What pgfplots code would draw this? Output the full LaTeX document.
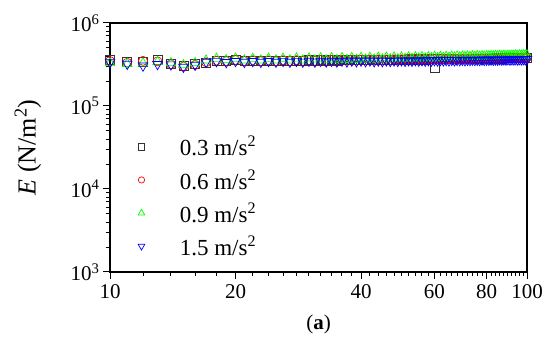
\documentclass[border=0pt]{standalone}
\usepackage{fontspec}
\setmainfont{Liberation Serif}
\usepackage{pgfplots}
\pgfplotsset{compat=1.18}
\begin{document}
\begin{tikzpicture}
\useasboundingbox (0,0) rectangle (550bp,349bp);
\begin{axis}[
  at={(110bp,77bp)}, anchor=south west,
  scale only axis, width=417bp, height=249bp,
  xmode=log, ymode=log,
  xmin=10, xmax=100, ymin=1e3, ymax=1e6,
  xtick={10,20,40,60,80,100},
  xticklabels={10,20,40,60,80,100},
  minor xtick={12,14,16,18,22,24,26,28,30,32,34,36,38,42,44,46,48,50,52,54,56,58,62,64,66,68,70,72,74,76,78,82,84,86,88,90,92,94,96,98},
  ytick={1e3,1e4,1e5,1e6},
  yticklabels={10\textsuperscript{3},10\textsuperscript{4},10\textsuperscript{5},10\textsuperscript{6}},
  minor ytick={2e3,3e3,4e3,5e3,6e3,7e3,8e3,9e3,2e4,3e4,4e4,5e4,6e4,7e4,8e4,9e4,2e5,3e5,4e5,5e5,6e5,7e5,8e5,9e5},
  tick align=outside, xtick pos=bottom, ytick pos=left,
  major tick length=7bp, minor tick length=4bp,
  every tick/.style={black, line width=1bp},
  axis line style={line width=1.2bp},
  tick label style={font=\fontsize{21bp}{25bp}\selectfont},
  xticklabel style={yshift=-2bp},
  ylabel={\textit{E} (N/m\textsuperscript{2})},
  ylabel style={font=\fontsize{26bp}{30bp}\selectfont, at={(axis description cs:-0.197,0.5)}, anchor=center},
  xlabel={(\textbf{a})},
  xlabel style={font=\fontsize{21bp}{24bp}\selectfont, at={(axis description cs:0.5,0)}, anchor=center, yshift=-52bp},
  legend style={at={(axis description cs:0.067,0.554)}, anchor=north west, draw=none, fill=none,
    font=\fontsize{23bp}{27bp}\selectfont, row sep=8bp, inner sep=0pt},
  legend cell align=left,
  legend image post style={every mark/.append style={scale=0.7}},
]
\addplot[only marks, mark=square, mark size=4.5bp, draw=black!80, line width=0.7bp] coordinates {
(10,3.55e5)(11,3.40e5)(12,3.45e5)(13,3.58e5)(14,3.25e5)(15,3.05e5)(16,3.20e5)(17,3.32e5)(18,3.46e5)(19,3.50e5)
(20,3.55e5)(21,3.50e5)(22,3.53e5)(23,3.49e5)(24,3.52e5)(25,3.48e5)(26,3.53e5)(27,3.50e5)(28,3.54e5)(29,3.51e5)
(30,3.55e5)(31,3.52e5)(32,3.56e5)(33,3.53e5)(34,3.57e5)(35,3.54e5)(36,3.58e5)(37,3.55e5)(38,3.59e5)(39,3.56e5)
(40,3.60e5)(41,3.57e5)(42,3.61e5)(43,3.58e5)(44,3.62e5)(45,3.59e5)(46,3.62e5)(47,3.60e5)(48,3.63e5)(49,3.61e5)
(50,3.64e5)(51,3.62e5)(52,3.65e5)(53,3.62e5)(54,3.66e5)(55,3.63e5)(56,3.66e5)(57,3.64e5)(58,3.67e5)(59,3.65e5)
(60,2.85e5)(61,3.66e5)(62,3.68e5)(63,3.66e5)(64,3.69e5)(65,3.67e5)(66,3.70e5)(67,3.68e5)(68,3.70e5)(69,3.69e5)
(70,3.71e5)(71,3.69e5)(72,3.72e5)(73,3.70e5)(74,3.72e5)(75,3.71e5)(76,3.73e5)(77,3.72e5)(78,3.74e5)(79,3.72e5)
(80,3.74e5)(81,3.73e5)(82,3.75e5)(83,3.74e5)(84,3.76e5)(85,3.74e5)(86,3.76e5)(87,3.75e5)(88,3.77e5)(89,3.76e5)
(90,3.78e5)(91,3.76e5)(92,3.78e5)(93,3.77e5)(94,3.79e5)(95,3.78e5)(96,3.80e5)(97,3.78e5)(98,3.80e5)(99,3.79e5)(100,3.81e5)
};
\addlegendentry{\hspace{33bp}0.3 m/s\textsuperscript{2}}
\addplot[only marks, mark=o, mark size=4.5bp, draw=red, line width=0.7bp] coordinates {
(10,3.48e5)(11,3.32e5)(12,3.50e5)(13,3.45e5)(14,3.18e5)(15,3.00e5)(16,3.12e5)(17,3.36e5)(18,3.52e5)(19,3.47e5)
(20,3.58e5)(21,3.48e5)(22,3.56e5)(23,3.47e5)(24,3.55e5)(25,3.46e5)(26,3.56e5)(27,3.48e5)(28,3.57e5)(29,3.49e5)
(30,3.57e5)(31,3.50e5)(32,3.58e5)(33,3.51e5)(34,3.59e5)(35,3.52e5)(36,3.60e5)(37,3.53e5)(38,3.61e5)(39,3.54e5)
(40,3.62e5)(41,3.55e5)(42,3.63e5)(43,3.56e5)(44,3.64e5)(45,3.57e5)(46,3.64e5)(47,3.58e5)(48,3.65e5)(49,3.59e5)
(50,3.66e5)(51,3.60e5)(52,3.67e5)(53,3.60e5)(54,3.68e5)(55,3.61e5)(56,3.68e5)(57,3.62e5)(58,3.69e5)(59,3.63e5)
(60,3.69e5)(61,3.64e5)(62,3.70e5)(63,3.64e5)(64,3.71e5)(65,3.65e5)(66,3.72e5)(67,3.66e5)(68,3.72e5)(69,3.67e5)
(70,3.73e5)(71,3.67e5)(72,3.74e5)(73,3.68e5)(74,3.74e5)(75,3.69e5)(76,3.75e5)(77,3.70e5)(78,3.76e5)(79,3.70e5)
(80,3.76e5)(81,3.71e5)(82,3.77e5)(83,3.72e5)(84,3.78e5)(85,3.72e5)(86,3.78e5)(87,3.73e5)(88,3.79e5)(89,3.74e5)
(90,3.80e5)(91,3.74e5)(92,3.80e5)(93,3.75e5)(94,3.81e5)(95,3.76e5)(96,3.82e5)(97,3.76e5)(98,3.82e5)(99,3.77e5)(100,3.83e5)
};
\addlegendentry{\hspace{33bp}0.6 m/s\textsuperscript{2}}
\addplot[only marks, mark=triangle, mark size=5.5bp, draw=green, line width=0.7bp] coordinates {
(10,3.30e5)(11,3.22e5)(12,3.28e5)(13,3.40e5)(14,3.30e5)(15,3.12e5)(16,3.30e5)(17,3.55e5)(18,3.72e5)(19,3.58e5)
(20,3.74e5)(21,3.56e5)(22,3.72e5)(23,3.55e5)(24,3.73e5)(25,3.55e5)(26,3.74e5)(27,3.56e5)(28,3.75e5)(29,3.56e5)
(30,3.76e5)(31,3.57e5)(32,3.77e5)(33,3.58e5)(34,3.78e5)(35,3.59e5)(36,3.79e5)(37,3.60e5)(38,3.80e5)(39,3.61e5)
(40,3.81e5)(41,3.63e5)(42,3.82e5)(43,3.64e5)(44,3.83e5)(45,3.65e5)(46,3.84e5)(47,3.66e5)(48,3.85e5)(49,3.68e5)
(50,3.86e5)(51,3.70e5)(52,3.87e5)(53,3.72e5)(54,3.88e5)(55,3.74e5)(56,3.89e5)(57,3.76e5)(58,3.90e5)(59,3.78e5)
(60,3.91e5)(61,3.80e5)(62,3.92e5)(63,3.82e5)(64,3.93e5)(65,3.84e5)(66,3.94e5)(67,3.86e5)(68,3.95e5)(69,3.88e5)
(70,3.96e5)(71,3.90e5)(72,3.97e5)(73,3.92e5)(74,3.98e5)(75,3.93e5)(76,3.99e5)(77,3.95e5)(78,4.00e5)(79,3.96e5)
(80,4.01e5)(81,3.98e5)(82,4.02e5)(83,3.99e5)(84,4.03e5)(85,4.00e5)(86,4.04e5)(87,4.01e5)(88,4.05e5)(89,4.02e5)
(90,4.06e5)(91,4.03e5)(92,4.07e5)(93,4.04e5)(94,4.08e5)(95,4.05e5)(96,4.09e5)(97,4.06e5)(98,4.10e5)(99,4.07e5)(100,4.10e5)
};
\addlegendentry{\hspace{33bp}0.9 m/s\textsuperscript{2}}
\addplot[only marks, mark=triangle, mark options={rotate=180}, mark size=5.5bp, draw=blue, line width=0.7bp] coordinates {
(10,3.35e5)(11,3.20e5)(12,3.05e5)(13,3.18e5)(14,3.15e5)(15,2.95e5)(16,3.12e5)(17,3.38e5)(18,3.45e5)(19,3.36e5)
(20,3.46e5)(21,3.38e5)(22,3.46e5)(23,3.38e5)(24,3.46e5)(25,3.39e5)(26,3.47e5)(27,3.39e5)(28,3.47e5)(29,3.40e5)
(30,3.48e5)(31,3.40e5)(32,3.48e5)(33,3.41e5)(34,3.49e5)(35,3.41e5)(36,3.49e5)(37,3.42e5)(38,3.50e5)(39,3.43e5)
(40,3.50e5)(41,3.44e5)(42,3.51e5)(43,3.44e5)(44,3.51e5)(45,3.45e5)(46,3.52e5)(47,3.46e5)(48,3.52e5)(49,3.47e5)
(50,3.53e5)(51,3.47e5)(52,3.53e5)(53,3.48e5)(54,3.54e5)(55,3.49e5)(56,3.54e5)(57,3.50e5)(58,3.55e5)(59,3.50e5)
(60,3.55e5)(61,3.51e5)(62,3.56e5)(63,3.52e5)(64,3.56e5)(65,3.52e5)(66,3.57e5)(67,3.53e5)(68,3.57e5)(69,3.54e5)
(70,3.58e5)(71,3.54e5)(72,3.58e5)(73,3.55e5)(74,3.59e5)(75,3.56e5)(76,3.59e5)(77,3.56e5)(78,3.60e5)(79,3.57e5)
(80,3.60e5)(81,3.58e5)(82,3.61e5)(83,3.58e5)(84,3.61e5)(85,3.59e5)(86,3.62e5)(87,3.59e5)(88,3.62e5)(89,3.60e5)
(90,3.63e5)(91,3.60e5)(92,3.63e5)(93,3.61e5)(94,3.64e5)(95,3.61e5)(96,3.64e5)(97,3.62e5)(98,3.65e5)(99,3.62e5)(100,3.65e5)
};
\addlegendentry{\hspace{33bp}1.5 m/s\textsuperscript{2}}
\end{axis}
\end{tikzpicture}
\end{document}
